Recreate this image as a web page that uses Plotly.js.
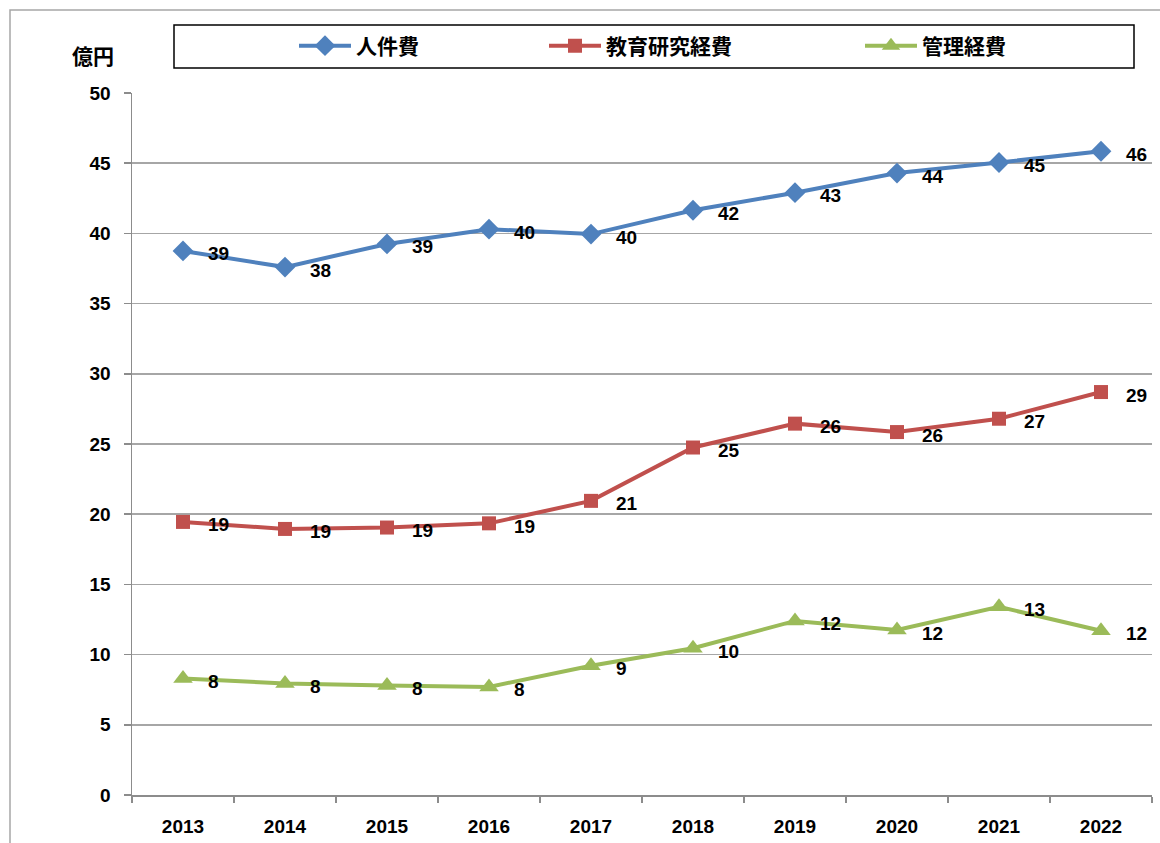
<!DOCTYPE html>
<html>
<head>
<meta charset="utf-8">
<script src="https://cdn.plot.ly/plotly-3.0.1.min.js"></script>
<style>html,body{margin:0;padding:0;background:#fff;}#chart{width:1160px;height:843px;}</style>
</head>
<body>
<div id="chart"></div>
<script>
const years = ['2013','2014','2015','2016','2017','2018','2019','2020','2021','2022'];
const personnel = [38.75, 37.6, 39.25, 40.3, 39.95, 41.65, 42.9, 44.3, 45.05, 45.85];
const eduResearch = [19.45, 18.95, 19.05, 19.35, 20.95, 24.75, 26.45, 25.85, 26.8, 28.7];
const admin = [8.3, 7.95, 7.8, 7.7, 9.2, 10.45, 12.4, 11.75, 13.4, 11.7];
const seriesNames = ['人件費', '教育研究経費', '管理経費'];
const yTitle = '億円';

const W = 1160, H = 843;
const L = 132, R = 1152, T = 93, B = 795;
const px2x = p => (p - L) / (R - L);
const px2y = p => (B - p) / (B - T);

const FONT = 'Liberation Sans, Noto Sans CJK JP, sans-serif';
const colors = ['#4f81bd', '#c0504d', '#9bbb59'];
const symbols = ['diamond', 'square', 'triangle-up'];
const sizes = [16, 14, 17];
const allSeries = [personnel, eduResearch, admin];
const legendIds = ['legend', 'legend2', 'legend3'];

const traces = allSeries.map((vals, i) => ({
  type: 'scatter', mode: 'lines+markers',
  x: years, y: vals, name: seriesNames[i],
  legend: legendIds[i],
  line: {color: colors[i], width: 4},
  marker: {symbol: symbols[i], size: sizes[i], color: colors[i]},
  hoverinfo: 'x+y'
}));

const annotations = [];
allSeries.forEach(vals => {
  vals.forEach((v, j) => {
    annotations.push({
      x: j, y: v, xref: 'x', yref: 'y',
      text: String(Math.round(v)), showarrow: false,
      xanchor: 'left', yanchor: 'middle', xshift: 23, yshift: -3,
      font: {family: FONT, size: 19, color: '#000', weight: 'bold'}
    });
  });
});
annotations.push({
  x: px2x(93), y: px2y(57), xref: 'paper', yref: 'paper',
  text: yTitle, showarrow: false, xanchor: 'center', yanchor: 'middle',
  font: {family: FONT, size: 21, color: '#000', weight: 'bold'}
});

const legendStarts = [302, 552, 868];
const legendBase = {
  orientation: 'h', xref: 'container', yref: 'container',
  yanchor: 'middle', xanchor: 'left',
  bgcolor: 'rgba(0,0,0,0)', borderwidth: 0, itemwidth: 52,
  font: {family: FONT, size: 21, color: '#000', weight: 'bold'}
};
const layout = {
  width: W, height: H,
  margin: {l: L, r: W - R, t: T, b: H - B, pad: 0},
  paper_bgcolor: '#fff', plot_bgcolor: '#fff',
  showlegend: true,
  xaxis: {
    type: 'category', categoryorder: 'array', categoryarray: years,
    range: [-0.5, years.length - 0.5], autorange: false,
    tickson: 'boundaries', ticks: 'outside', ticklen: 6,
    tickcolor: '#8c8c8c', tickwidth: 1.5,
    showline: true, linecolor: '#8c8c8c', linewidth: 1.5,
    showgrid: false, zeroline: false, ticklabelstandoff: 14,
    tickfont: {family: FONT, size: 19, color: '#000', weight: 'bold'}
  },
  yaxis: {
    range: [0, 50], autorange: false, dtick: 5, tick0: 0, ticks: 'outside', ticklen: 7,
    tickcolor: '#8c8c8c', tickwidth: 1.5,
    showline: true, linecolor: '#8c8c8c', linewidth: 1.5,
    showgrid: true, gridcolor: '#a6a6a6', gridwidth: 1.5, zeroline: false,
    ticklabelstandoff: 9,
    tickfont: {family: FONT, size: 19, color: '#000', weight: 'bold'}
  },
  annotations: annotations,
  shapes: [
    {type: 'rect', xref: 'paper', yref: 'paper',
     x0: px2x(10), x1: px2x(1200), y0: px2y(900), y1: px2y(10),
     line: {color: '#a6a6a6', width: 1.5}, fillcolor: 'rgba(0,0,0,0)', layer: 'below'},
    {type: 'rect', xref: 'paper', yref: 'paper',
     x0: px2x(174), x1: px2x(1134), y0: px2y(68), y1: px2y(25),
     line: {color: '#000', width: 1.5}, fillcolor: 'rgba(0,0,0,0)'}
  ]
};
legendIds.forEach((id, i) => {
  layout[id] = Object.assign({}, legendBase, {x: (legendStarts[i] - 8) / W, y: 1 - 46 / H});
});

Plotly.newPlot('chart', traces, layout, {displayModeBar: false, staticPlot: true});
</script>
</body>
</html>
